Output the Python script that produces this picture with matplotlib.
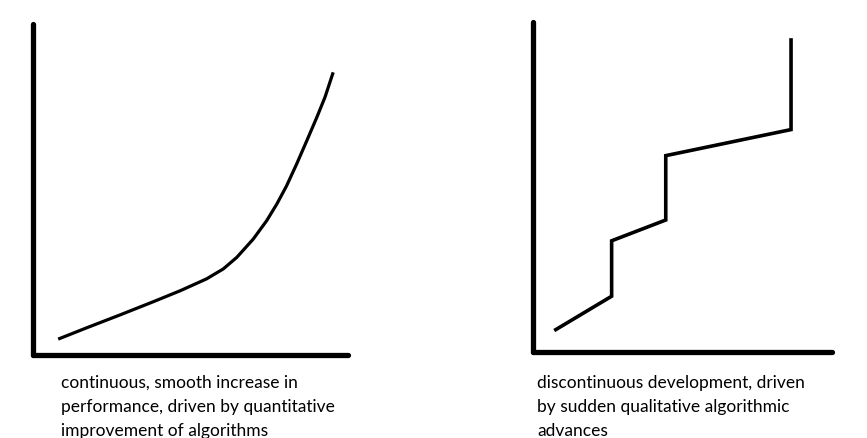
import matplotlib.pyplot as plt

# left sketch: smooth curve (arbitrary units, 0-10 on both axes)
smooth_x = [0.80, 1.70, 2.76, 3.82, 4.67, 5.51, 6.04, 6.47, 6.99, 7.42,
            7.74, 8.05, 8.37, 8.69, 9.01, 9.27, 9.53]
smooth_y = [0.48, 0.82, 1.21, 1.61, 1.94, 2.30, 2.60, 2.95, 3.50, 4.06,
            4.56, 5.11, 5.77, 6.47, 7.18, 7.79, 8.54]

# right sketch: step-like development
step_x = [0.71, 2.63, 2.63, 4.44, 4.44, 8.63, 8.63]
step_y = [0.65, 1.69, 3.37, 4.00, 5.95, 6.74, 9.51]

left_caption = ["continuous, smooth increase in",
                "performance, driven by quantitative",
                "improvement of algorithms"]
right_caption = ["discontinuous development, driven",
                 "by sudden qualitative algorithmic",
                 "advances"]

W, H = 867, 439
fig = plt.figure(figsize=(W / 100, H / 100), dpi=100)


def sketch_axes(x0, y0, x1, y1):
    # pixel box -> figure fraction
    ax = fig.add_axes([x0 / W, (H - y0) / H, (x1 - x0) / W, (y0 - y1) / H])
    ax.set_xlim(0, 10)
    ax.set_ylim(0, 10)
    ax.set_xticks([])
    ax.set_yticks([])
    ax.patch.set_alpha(0)
    for s in ["top", "right"]:
        ax.spines[s].set_visible(False)
    for s in ["left", "bottom"]:
        ax.spines[s].set_linewidth(3.8)
        ax.spines[s].set_capstyle("round")
    return ax


ax1 = sketch_axes(33, 356, 348, 25)
ax1.plot(smooth_x, smooth_y, color="black", lw=2.3, solid_capstyle="butt",
         solid_joinstyle="round")

ax2 = sketch_axes(533, 353, 832, 23)
ax2.plot(step_x, step_y, color="black", lw=2.6, solid_capstyle="butt",
         solid_joinstyle="miter")

for i, line in enumerate(left_caption):
    fig.text(61 / W, 1 - (383 + i * 24) / H, line, fontsize=12.5,
             family="Lato", va="center", ha="left")
for i, line in enumerate(right_caption):
    fig.text(537 / W, 1 - (383 + i * 24) / H, line, fontsize=12.5,
             family="Lato", va="center", ha="left")

fig.savefig("out.png", dpi=100)
